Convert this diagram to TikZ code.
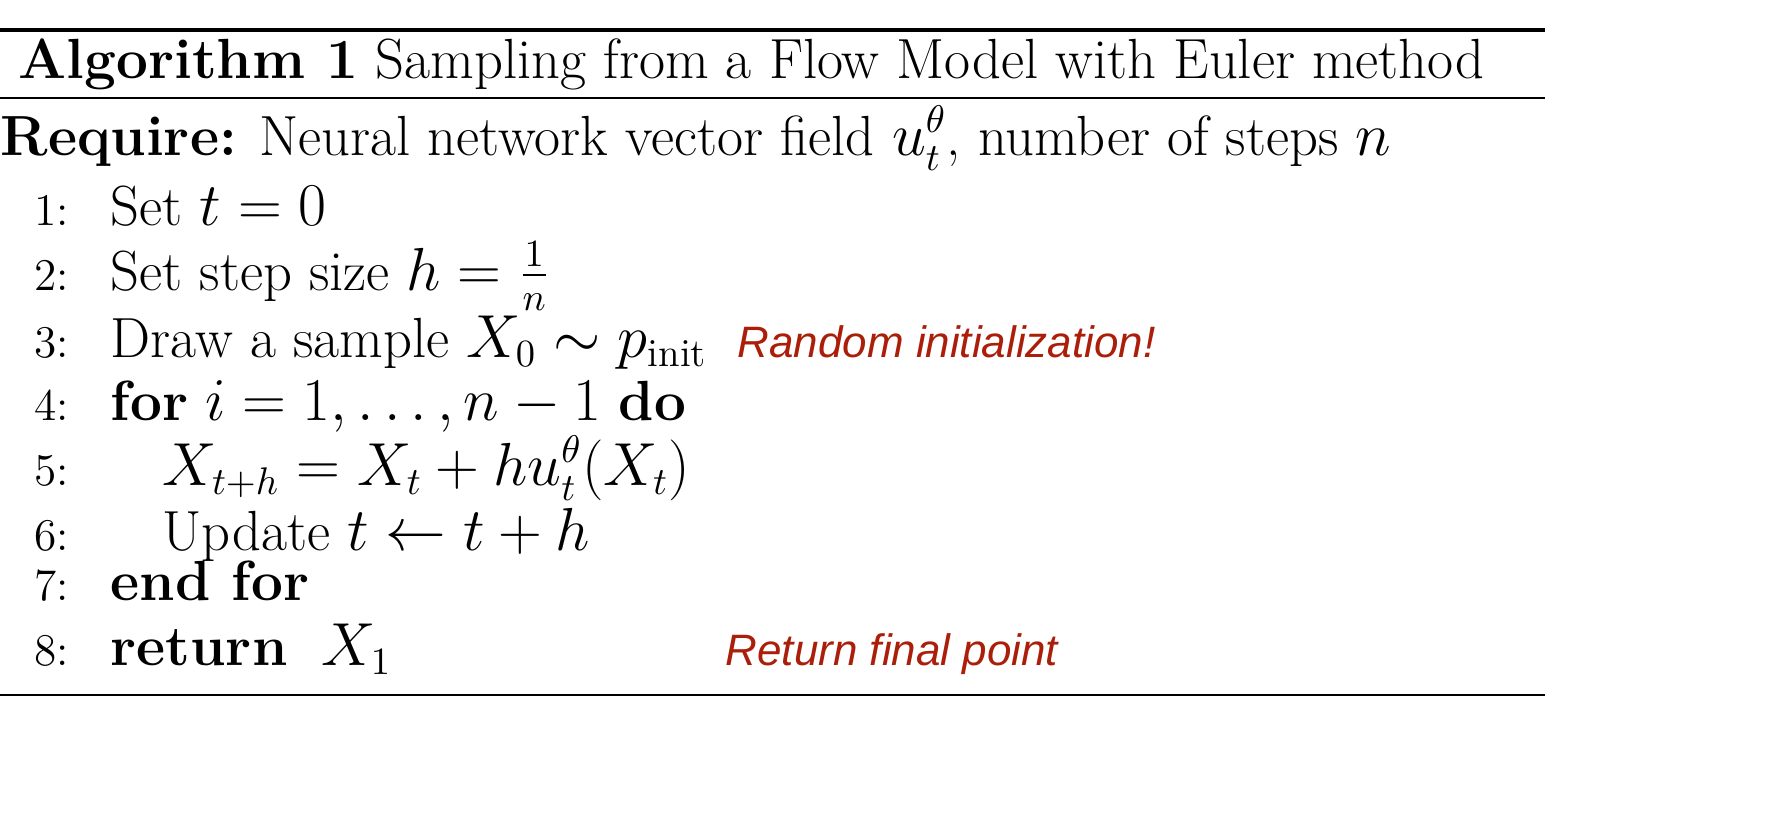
\documentclass[tikz,border=0pt]{standalone}
\usepackage{fontspec}
\newfontfamily\redfont{Liberation Sans}
\definecolor{annot}{RGB}{170,30,10}
\begin{document}
\begin{tikzpicture}[x=0.01cm,y=-0.01cm,
  txt/.style={anchor=base west,inner sep=0pt,font=\fontsize{16.1}{19}\selectfont},
  num/.style={anchor=base east,inner sep=0pt,font=\fontsize{12.9}{15}\selectfont},
  red/.style={anchor=base west,inner sep=0pt,text=annot,font=\fontsize{12.5}{15}\redfont\itshape}]
\useasboundingbox (0,0) rectangle (1776,826);
\draw[line width=1.2pt] (0,30) -- (1545,30);
\draw[line width=0.6pt] (0,98) -- (1545,98);
\draw[line width=0.6pt] (0,695) -- (1545,695);
\node[txt] (title) at (18,78) {\textbf{Algorithm 1} Sampling from a Flow Model with Euler method};
\node[txt] (req) at (0,155) {\textbf{Require:} Neural network vector field $u_t^\theta$, number of steps $n$};
\node[num] (n1) at (70,225) {1:};
\node[txt] (l1) at (110,225) {Set $t=0$};
\node[num] (n2) at (70,290) {2:};
\node[txt] (l2) at (110,290) {Set step size $h=\frac{1}{n}$};
\node[num] (n3) at (70,357) {3:};
\node[txt] (l3) at (110,357) {Draw a sample $X_0\sim p_{\mathrm{init}}$};
\node[num] (n4) at (70,420) {4:};
\node[txt] (l4) at (110,420) {\textbf{for} $i=1,\dots,n-1$ \textbf{do}};
\node[num] (n5) at (70,485) {5:};
\node[txt] (l5) at (162,485) {$X_{t+h}=X_t+hu_t^\theta(X_t)$};
\node[num] (n6) at (70,550) {6:};
\node[txt] (l6) at (162,550) {Update $t\leftarrow t+h$};
\node[num] (n7) at (70,600) {7:};
\node[txt] (l7) at (110,600) {\textbf{end for}};
\node[num] (n8) at (70,665) {8:};
\node[txt] (l8) at (110,665) {\textbf{return} \ $X_1$};
\node[red] (r1) at (737,357) {Random initialization!};
\node[red] (r2) at (725,665) {Return final point};
\end{tikzpicture}
\end{document}
